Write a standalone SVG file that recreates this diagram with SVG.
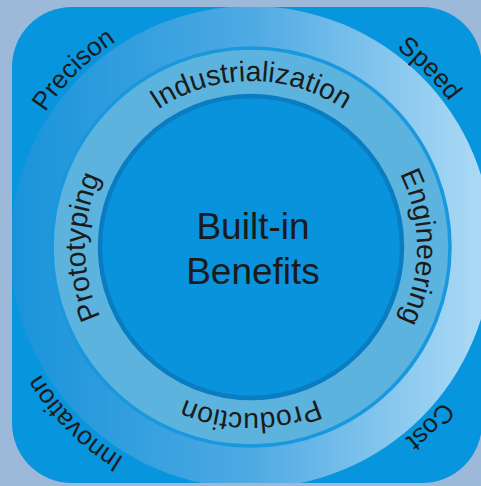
<svg xmlns="http://www.w3.org/2000/svg" width="481" height="486" viewBox="0 0 481 486">
<defs>
<style>
.lbl{font-family:"Liberation Sans",Arial,sans-serif;fill:#1b1b1b;}
.ring{font-size:28.5px;}
.corner{font-size:26px;}
.center{font-size:37px;}
</style>
<linearGradient id="outerGrad" x1="10" y1="0" x2="492" y2="0" gradientUnits="userSpaceOnUse">
<stop offset="0" stop-color="#1893da"/>
<stop offset="0.5" stop-color="#4eaae3"/>
<stop offset="1" stop-color="#b0dcf6"/>
</linearGradient>
<clipPath id="sq"><rect x="12" y="7" width="470" height="476" rx="60" ry="60"/></clipPath>
<path id="pTop" d="M85,247 A166,166 0 0 1 417,247"/>
<path id="pRight" d="M251,81 A166,166 0 0 1 251,413"/>
<path id="pBottom" d="M417,247 A166,166 0 0 1 85,247"/>
<path id="pLeft" d="M251,413 A166,166 0 0 1 251,81"/>
<path id="pTL" d="M77.05,420.95 A246,246 0 0 1 424.95,73.05"/>
<path id="pTR" d="M77.05,73.05 A246,246 0 0 1 424.95,420.95"/>
<path id="pBR" d="M424.95,73.05 A246,246 0 0 1 77.05,420.95"/>
<path id="pBL" d="M424.95,420.95 A246,246 0 0 1 77.05,73.05"/>
</defs>
<rect width="481" height="486" fill="#9cb9da"/>
<g id="frame">
<rect x="12" y="7" width="470" height="476" rx="60" ry="60" fill="#0795dd"/>
<circle cx="251" cy="247" r="241" fill="url(#outerGrad)" clip-path="url(#sq)"/>
</g>
<g id="ring">
<circle cx="251" cy="247" r="199" fill="#5cb4de" stroke="#1a98de" stroke-width="3.5"/>
</g>
<g id="core">
<circle cx="251" cy="247" r="151" fill="#0893dc" stroke="#0a7cc2" stroke-width="4.5"/>
<text class="lbl center" x="253" y="239" text-anchor="middle">Built-in</text>
<text class="lbl center" x="253" y="284" text-anchor="middle">Benefits</text>
</g>
<g id="industrialization"><text class="lbl ring"><textPath href="#pTop" startOffset="50%" text-anchor="middle">Industrialization</textPath></text></g>
<g id="engineering"><text class="lbl ring"><textPath href="#pRight" startOffset="50%" text-anchor="middle">Engineering</textPath></text></g>
<g id="production"><text class="lbl ring"><textPath href="#pBottom" startOffset="50%" text-anchor="middle">Production</textPath></text></g>
<g id="prototyping"><text class="lbl ring"><textPath href="#pLeft" startOffset="50%" text-anchor="middle">Prototyping</textPath></text></g>
<g id="precison"><text class="lbl corner"><textPath href="#pTL" startOffset="50%" text-anchor="middle">Precison</textPath></text></g>
<g id="speed"><text class="lbl corner"><textPath href="#pTR" startOffset="50%" text-anchor="middle">Speed</textPath></text></g>
<g id="cost"><text class="lbl corner"><textPath href="#pBR" startOffset="50%" text-anchor="middle">Cost</textPath></text></g>
<g id="innovation"><text class="lbl corner"><textPath href="#pBL" startOffset="50%" text-anchor="middle">Innovation</textPath></text></g>
<g id="connectors"/>
</svg>
